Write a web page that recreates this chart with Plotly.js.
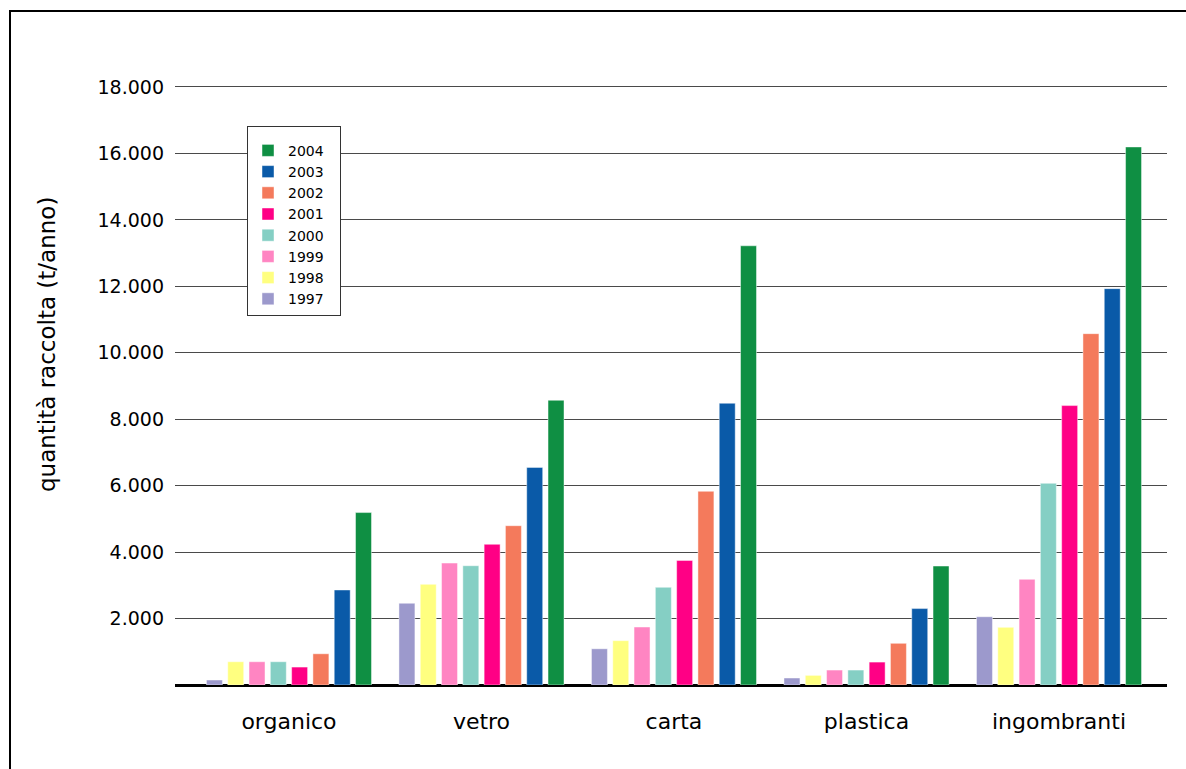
<!DOCTYPE html>
<html>
<head>
<meta charset="utf-8">
<script src="https://cdn.plot.ly/plotly-3.0.1.min.js"></script>
<style>
  html, body { margin: 0; padding: 0; background: #fff; overflow: hidden; }
  #frame { position: absolute; left: 9px; top: 10px; width: 1200px; height: 800px; border: 2px solid #000; box-sizing: border-box; }
  #chart { position: absolute; left: 0; top: 0; width: 1186px; height: 769px; }
</style>
</head>
<body>
<div id="frame"></div>
<div id="chart"></div>
<script>
const categories = ['organico', 'vetro', 'carta', 'plastica', 'ingombranti'];
const years = ['1997', '1998', '1999', '2000', '2001', '2002', '2003', '2004'];
const colors = ['#9C99CC', '#FFFF80', '#FF85C2', '#85CFC4', '#FF0085', '#F47A5C', '#0A5AA8', '#0F8F43'];

const v1997 = [150, 2460, 1090, 210, 2055];
const v1998 = [700, 3030, 1335, 290, 1735];
const v1999 = [700, 3670, 1745, 450, 3180];
const v2000 = [700, 3590, 2940, 450, 6070];
const v2001 = [540, 4235, 3750, 690, 8410];
const v2002 = [940, 4795, 5830, 1255, 10575];
const v2003 = [2860, 6550, 8480, 2300, 11930];
const v2004 = [5190, 8570, 13220, 3580, 16195];
const series = [v1997, v1998, v1999, v2000, v2001, v2002, v2003, v2004];

const tickValues = [2000, 4000, 6000, 8000, 10000, 12000, 14000, 16000, 18000];
const tickLabels = ['2.000', '4.000', '6.000', '8.000', '10.000', '12.000', '14.000', '16.000', '18.000'];
const yTitle = 'quantità raccolta (t/anno)';

const FONT = 'DejaVu Sans, Verdana, sans-serif';

const traces = series.map((vals, i) => ({
  type: 'bar',
  name: years[i],
  x: categories,
  y: vals,
  marker: { color: colors[i], line: { color: 'rgba(255,255,255,0.45)', width: 1 } },
  hoverinfo: 'x+y+name'
}));

const layout = {
  width: 1186,
  height: 769,
  margin: { l: 175, r: 19, t: 60, b: 84 },
  paper_bgcolor: 'rgba(0,0,0,0)',
  plot_bgcolor: 'rgba(0,0,0,0)',
  barmode: 'group',
  bargap: 0.115,
  bargroupgap: 0.25,
  font: { family: FONT, color: '#000' },
  xaxis: {
    type: 'category',
    range: [-0.592, 4.561],
    showgrid: false,
    showline: false,
    ticks: '',
    tickfont: { family: FONT, size: 22, color: '#000' },
    ticklabelstandoff: 21,
    fixedrange: true
  },
  yaxis: {
    range: [0, 18812],
    tickvals: tickValues,
    ticktext: tickLabels,
    showgrid: true,
    gridcolor: '#4a4a4a',
    gridwidth: 1,
    zeroline: true,
    zerolinecolor: '#000',
    zerolinewidth: 3,
    showline: false,
    ticks: '',
    ticklabelstandoff: 10,
    tickfont: { family: FONT, size: 19, color: '#000' },
    fixedrange: true
  },
  annotations: [{
    text: yTitle,
    xref: 'paper', yref: 'paper',
    x: -0.129, y: 0.544,
    xanchor: 'center', yanchor: 'middle',
    textangle: -90,
    showarrow: false,
    font: { family: FONT, size: 23, color: '#000' }
  }],
  showlegend: true,
  legend: {
    x: 0.0726,
    y: 0.8944,
    xanchor: 'left',
    yanchor: 'top',
    traceorder: 'reversed',
    bgcolor: '#fff',
    bordercolor: '#333',
    borderwidth: 1,
    font: { family: FONT, size: 14, color: '#000' },
    title: { text: '&nbsp;'.repeat(46), font: { family: FONT, size: 6 } },
    itemwidth: 30
  }
};

Plotly.newPlot('chart', traces, layout, { displayModeBar: false, staticPlot: true });
</script>
</body>
</html>
